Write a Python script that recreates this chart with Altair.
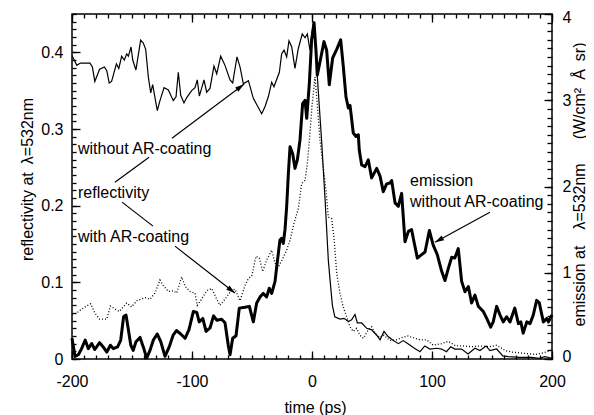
import math
import altair as alt
import pandas as pd

FONT = "Liberation Sans"

# ---- reflectivity without AR-coating (thin solid, left axis) ----
t_thin = [-200, -196, -193, -185, -183, -181, -177, -173, -171, -169, -167, -163, -161, -158.6, -156.4,
          -154.4, -153, -150.8, -149.4, -146.7, -142.8, -140.6, -138.6, -136.4, -134.4, -132.8, -128.9,
          -126.7, -123.3, -119.7, -115.6, -113.3, -111.4, -109.4, -106.7, -104.4, -100.3, -97.5, -95.6,
          -93.9, -92, -90, -87.8, -85, -81.7, -79.4, -76.1, -72.5, -68.3, -66.1, -62.5, -60, -57.2, -53,
          -48.9, -46.1, -41.9, -39.2, -36.4, -33.6, -31.7, -27.2, -25.3, -23.3, -21.1, -19.2, -16.9, -14.2,
          -11.4, -8.1, -5.8, -3.9, -1.7, 1, 3, 5, 8, 11, 13.6, 15.5, 17, 19, 23.3, 26.7, 30.3, 33, 35.8,
          37.8, 41.4, 45.6, 49.7, 53.9, 56.7, 60, 63.6, 67.8, 72, 76, 80, 84.4, 90, 94, 98.3, 104, 108, 112,
          115.6, 119, 124.7, 130, 135.8, 140, 145, 148.3, 153.9, 159, 163.6, 173, 183, 189.4, 194, 200]
r_thin = [0.396, 0.383, 0.386, 0.386, 0.381, 0.362, 0.378, 0.381, 0.376, 0.360, 0.362, 0.385, 0.379, 0.395,
          0.390, 0.398, 0.395, 0.407, 0.390, 0.377, 0.416, 0.412, 0.404, 0.368, 0.347, 0.358, 0.324, 0.337,
          0.354, 0.351, 0.337, 0.342, 0.374, 0.344, 0.334, 0.341, 0.350, 0.354, 0.364, 0.343, 0.353, 0.364,
          0.348, 0.353, 0.382, 0.372, 0.395, 0.383, 0.364, 0.360, 0.394, 0.381, 0.359, 0.363, 0.340, 0.332,
          0.320, 0.329, 0.342, 0.361, 0.355, 0.374, 0.398, 0.403, 0.394, 0.415, 0.407, 0.379, 0.405, 0.424,
          0.419, 0.424, 0.403, 0.438, 0.405, 0.355, 0.285, 0.205, 0.129, 0.095, 0.070, 0.055, 0.052, 0.053,
          0.049, 0.051, 0.058, 0.047, 0.047, 0.040, 0.038, 0.031, 0.025, 0.036, 0.029, 0.024, 0.020, 0.024,
          0.020, 0.015, 0.0095, 0.017, 0.013, 0.014, 0.013, 0.0095, 0.016, 0.013, 0.013, 0.0065, 0.014,
          0.011, 0.017, 0.011, 0.013, 0.004, 0.003, 0.002, 0.002, 0.001, 0.003, 0.001]

# ---- reflectivity with AR-coating (dotted, left axis) ----
t_dot = [-200, -196, -193, -188, -184.4, -181, -177, -171, -168, -164, -160.6, -154.4, -150.3, -146, -139,
         -135, -130.8, -126.7, -124, -119.7, -115.6, -112.8, -108.6, -105.8, -101.7, -97.5, -95.6, -92,
         -87.8, -83.6, -79.4, -76.7, -72.5, -67, -64.2, -60, -55.8, -53, -50.2, -46.7, -43.9, -41.1, -37.8,
         -33.6, -30.8, -28, -24.4, -21.1, -18.3, -15, -11.4, -8.6, -5.8, -3.9, -2.2, 0, 2.5, 4.5, 6.7, 9.4,
         11.7, 13.6, 16.4, 18.3, 20.6, 23.3, 26, 28.9, 31.7, 34.4, 37.2, 40, 42.8, 46.9, 49.7, 52.5, 56.7,
         60, 65, 70.6, 75, 80, 85.8, 90, 95.6, 101, 108, 113.6, 120, 126, 133, 140, 148, 154, 161, 166.7,
         173, 179, 186, 193, 200]
r_dot = [0.058, 0.060, 0.064, 0.069, 0.072, 0.060, 0.052, 0.052, 0.069, 0.065, 0.062, 0.073, 0.068, 0.076,
         0.080, 0.078, 0.086, 0.103, 0.096, 0.088, 0.089, 0.086, 0.107, 0.095, 0.088, 0.086, 0.070, 0.078,
         0.089, 0.092, 0.078, 0.070, 0.078, 0.090, 0.091, 0.076, 0.096, 0.105, 0.108, 0.134, 0.132, 0.114,
         0.129, 0.142, 0.125, 0.120, 0.131, 0.142, 0.155, 0.177, 0.196, 0.229, 0.233, 0.255, 0.285, 0.330,
         0.368, 0.330, 0.285, 0.250, 0.220, 0.185, 0.183, 0.159, 0.112, 0.086, 0.068, 0.055, 0.042, 0.036,
         0.040, 0.031, 0.027, 0.038, 0.042, 0.034, 0.028, 0.031, 0.024, 0.025, 0.028, 0.030, 0.027, 0.025,
         0.025, 0.018, 0.020, 0.023, 0.017, 0.017, 0.016, 0.017, 0.016, 0.018, 0.011, 0.009, 0.008, 0.007,
         0.006, 0.008, 0.012]

# ---- emission without AR-coating (thick solid, right axis) ----
t_em = [-200, -197.5, -194.7, -192, -189, -186.4, -183.6, -181, -177, -174, -171, -168, -165.6, -162,
        -159.4, -157, -155, -153, -151, -149, -146.7, -143.3, -140.6, -137.8, -135, -132.2, -129, -126,
        -122.5, -119, -115.6, -112.8, -109.4, -105.8, -102.5, -98.9, -96, -94, -91, -88.3, -85, -82, -79.4,
        -75.3, -72.5, -69.7, -68.3, -66.1, -63.3, -60.6, -55.8, -52.2, -48.9, -46.1, -43.3, -40.6, -37.8,
        -35.6, -33.6, -30.8, -29.4, -26.7, -25.3, -23.9, -22.5, -21.1, -19.7, -18.3, -16.1, -14.2, -12.2,
        -10, -7.8, -5.8, -4.4, -2.2, -0.3, 1.7, 3.3, 4.4, 6.7, 10, 12.2, 14.4, 17.2, 20.6, 23.9, 26.1, 28.3,
        30.3, 31.7, 34.4, 36.7, 38.6, 39.4, 41.4, 44.2, 46.9, 49.7, 53.9, 56.7, 59.4, 62.2, 65, 66.4, 69.2,
        71.9, 74.7, 77.5, 80.3, 83, 85, 87.8, 91.4, 94.2, 97.8, 101, 104.4, 108, 110.8, 113.6, 116.4, 119,
        121.9, 124.7, 127.5, 130.3, 133, 135.8, 138.6, 142.8, 145.6, 148.9, 151, 153.9, 156.7, 159.4, 162.2,
        165, 169, 172, 174, 176, 179, 181.7, 184.4, 187.2, 189.4, 192.8, 195.6, 197, 200]
e_em = [0.24, 0.03, 0.05, 0.12, 0.22, 0.12, 0.18, 0.11, 0.19, 0.14, 0.08, 0.16, 0.12, 0.14, 0.22, 0.49, 0.51,
        0.34, 0.16, 0.10, 0.20, 0.25, 0.14, 0.01, 0.10, 0.22, 0.29, 0.20, 0.03, 0.14, 0.28, 0.33, 0.29, 0.24,
        0.34, 0.55, 0.54, 0.43, 0.47, 0.32, 0.36, 0.50, 0.45, 0.46, 0.42, 0.15, 0.05, 0.24, 0.27, 0.59, 0.60,
        0.61, 0.43, 0.65, 0.72, 0.76, 0.72, 0.82, 0.76, 0.90, 1.07, 1.38, 1.40, 1.34, 1.50, 1.77, 2.15, 2.46,
        2.38, 2.21, 2.31, 2.54, 2.96, 3.00, 2.79, 3.20, 3.70, 3.90, 3.58, 3.29, 3.45, 3.68, 3.58, 3.18, 3.49,
        3.59, 3.70, 3.39, 3.04, 2.91, 2.94, 2.62, 2.58, 2.60, 2.42, 2.25, 2.23, 2.31, 2.10, 2.21, 2.12, 1.94,
        2.03, 2.04, 2.07, 1.81, 1.77, 1.92, 1.36, 1.48, 1.50, 1.36, 1.17, 1.21, 1.24, 1.49, 1.32, 1.21, 1.02,
        0.91, 1.05, 1.18, 1.17, 1.28, 0.90, 0.78, 0.84, 0.65, 0.74, 0.61, 0.55, 0.47, 0.37, 0.43, 0.61, 0.51,
        0.43, 0.49, 0.43, 0.59, 0.41, 0.43, 0.30, 0.43, 0.41, 0.51, 0.68, 0.65, 0.43, 0.47, 0.43, 0.51]

# ---- axis tick values ----
x_major = [-200, -100, 0, 100, 200]
x_minor = list(range(-200, 201, 10))
refl_major = [0, 0.1, 0.2, 0.3, 0.4]
refl_minor = [round(i * 0.01, 2) for i in range(46)]
em_major = [0, 1, 2, 3, 4]
em_minor = [round(i * 0.1, 1) for i in range(41)]

# ---- annotations (data coordinates on the reflectivity scale) ----
ann_text = ["without AR-coating", "reflectivity", "with AR-coating", "emission", "without AR-coating"]
ann_t = [-195, -195, -195, 81.7, 81.7]
ann_r = [0.2678, 0.2104, 0.1524, 0.2254, 0.1987]

seg_t1 = [-164.2, -158.3, -116.7, -114.2, 148.3]
seg_r1 = [0.2306, 0.2046, 0.2879, 0.1472, 0.1915]
seg_t2 = [-135.8, -132.5, -56.7, -64.2, 102.5]
seg_r2 = [0.2632, 0.1733, 0.3583, 0.0860, 0.1524]
seg_head = [False, False, True, True, True]

XDOM = [-200, 200]
RDOM = [0, 0.45]
EDOM = [0, 4]
W, H = 480, 345
SX = W / (XDOM[1] - XDOM[0])
SY = H / (RDOM[1] - RDOM[0])

df_thin = pd.DataFrame({"t": t_thin, "v": r_thin})
df_dot = pd.DataFrame({"t": t_dot, "v": r_dot})
df_em = pd.DataFrame({"t": t_em, "v": e_em})
df_text = pd.DataFrame({"t": ann_t, "v": ann_r, "label": ann_text})
df_seg = pd.DataFrame({"t1": seg_t1, "r1": seg_r1, "t2": seg_t2, "r2": seg_r2})

heads = []
HEAD_HALF = 4.5
for a, b, c, d, h in zip(seg_t1, seg_r1, seg_t2, seg_r2, seg_head):
    if not h:
        continue
    dx = (c - a) * SX
    dy = (d - b) * SY  # upward positive
    L = math.hypot(dx, dy)
    ang = math.degrees(math.atan2(dx, dy)) % 360
    heads.append({"t": c - dx / L * HEAD_HALF / SX, "v": d - dy / L * HEAD_HALF / SY, "ang": ang})
df_head = pd.DataFrame(heads)


def xs():
    return alt.Scale(domain=XDOM, nice=False, zero=False)


def rs():
    return alt.Scale(domain=RDOM, nice=False, zero=False)


def es():
    return alt.Scale(domain=EDOM, nice=False, zero=False)


def tick_axis(orient, values, size):
    return alt.Axis(orient=orient, values=values, labels=False, domain=False, ticks=True,
                    tickSize=size, offset=-size, tickColor="black", tickWidth=1.3,
                    grid=False, title=None)


x_label_axis = alt.Axis(orient="bottom", values=x_major, ticks=False, domain=False, grid=False,
                        labelExpr="datum.value + ''", labelPadding=14, labelFlush=False,
                        labelOverlap=False,
                        title="time (ps)", titleX=243, titleY=53, titleBaseline="alphabetic",
                        titleAlign="center")
y_left_axis = alt.Axis(orient="left", values=refl_major, ticks=False, domain=False, grid=False,
                       labelExpr="datum.value + ''", labelPadding=9, labelFlush=False,
                       labelOverlap=False,
                       title="reflectivity at\u2002\u03bb=532nm", titleAngle=270, titleX=-45,
                       titleY=165, titleAlign="center", titleBaseline="middle")
y_right_axis = alt.Axis(orient="right", values=em_major, ticks=False, domain=False, grid=False,
                        labelExpr="datum.value + ''", labelPadding=10, labelFlush=True,
                        labelFlushOffset=5, labelOverlap=False,
                        title="emission at\u2003\u03bb=532nm\u2003\u2002(W/cm\u00b2\u2002\u00c5\u2002sr)",
                        titleAngle=270,
                        titleX=27, titleY=170, titleAlign="center", titleBaseline="middle")

thin = alt.Chart(df_thin).mark_line(color="black", strokeWidth=1.2).encode(
    x=alt.X("t:Q", scale=xs(), axis=x_label_axis),
    y=alt.Y("v:Q", scale=rs(), axis=y_left_axis))

dotted = alt.Chart(df_dot).mark_line(color="black", strokeWidth=1.3, strokeDash=[1, 2]).encode(
    x=alt.X("t:Q", scale=xs(), axis=None),
    y=alt.Y("v:Q", scale=rs(), axis=None))

thick = alt.Chart(df_em).mark_line(color="black", strokeWidth=3, strokeJoin="round").encode(
    x=alt.X("t:Q", scale=xs(), axis=None),
    y=alt.Y("v:Q", scale=es(), axis=y_right_axis))

tk1 = alt.Chart(df_thin).mark_point(opacity=0).encode(
    x=alt.X("t:Q", scale=xs(), axis=tick_axis("bottom", x_major, 8)),
    y=alt.Y("v:Q", scale=rs(), axis=tick_axis("left", refl_major, 8)))
tk2 = alt.Chart(df_thin).mark_point(opacity=0).encode(
    x=alt.X("t:Q", scale=xs(), axis=tick_axis("bottom", x_minor, 4)),
    y=alt.Y("v:Q", scale=rs(), axis=tick_axis("left", refl_minor, 4)))
tk3 = alt.Chart(df_em).mark_point(opacity=0).encode(
    x=alt.X("t:Q", scale=xs(), axis=tick_axis("top", x_major, 8)),
    y=alt.Y("v:Q", scale=es(), axis=tick_axis("right", em_major, 8)))
tk4 = alt.Chart(df_em).mark_point(opacity=0).encode(
    x=alt.X("t:Q", scale=xs(), axis=tick_axis("top", x_minor, 4)),
    y=alt.Y("v:Q", scale=es(), axis=tick_axis("right", em_minor, 5)))

texts = alt.Chart(df_text).mark_text(align="left", baseline="alphabetic", font=FONT, fontSize=16,
                                     color="black").encode(
    x=alt.X("t:Q", scale=xs(), axis=None),
    y=alt.Y("v:Q", scale=rs(), axis=None),
    text="label:N")

segs = alt.Chart(df_seg).mark_rule(color="black", strokeWidth=1.2).encode(
    x=alt.X("t1:Q", scale=xs(), axis=None), x2="t2:Q",
    y=alt.Y("r1:Q", scale=rs(), axis=None), y2="r2:Q")

arrowheads = alt.Chart(df_head).mark_point(
    shape="M0,-1L0.6,1L-0.6,1Z", filled=True, size=80, color="black", opacity=1).encode(
    x=alt.X("t:Q", scale=xs(), axis=None),
    y=alt.Y("v:Q", scale=rs(), axis=None),
    angle=alt.Angle("ang:Q", scale=None))

chart = alt.layer(thin, dotted, thick, tk1, tk2, tk3, tk4, texts, segs, arrowheads).resolve_scale(
    x="independent", y="independent").resolve_axis(x="independent", y="independent").properties(
    width=W, height=H,
    autosize=alt.AutoSizeParams(type="none"),
    padding={"left": 64, "top": 6, "right": 34, "bottom": 56},
    background="white",
).configure_view(stroke="black", strokeWidth=1.5).configure_axis(
    labelFont=FONT, titleFont=FONT, labelFontSize=16, titleFontSize=16, titleFontWeight="normal",
    labelColor="black", titleColor="black")

chart.save("out.html", embed_options={"renderer": "svg", "actions": False})
